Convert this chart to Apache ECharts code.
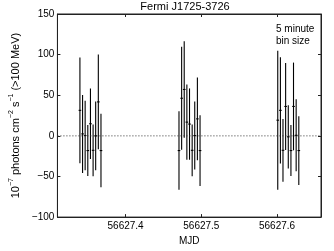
<!DOCTYPE html>
<html><head><meta charset="utf-8">
<script src="https://cdn.jsdelivr.net/npm/echarts@6/dist/echarts.min.js"></script>
<style>html,body{margin:0;padding:0;background:#fff}#c{width:334px;height:251px}</style>
</head><body><div id="c"></div>
<script>
// Data (MJD, flux in 1e-7 ph cm^-2 s^-1, symmetric 1-sigma error)
var mjd = [
  56627.3397, 56627.3432, 56627.3466, 56627.3501, 56627.3536, 56627.3571, 56627.3605, 56627.3640, 56627.3675,
  56627.4705, 56627.4740, 56627.4774, 56627.4809, 56627.4844, 56627.4879, 56627.4913, 56627.4948, 56627.4983,
  56627.6009, 56627.6044, 56627.6078, 56627.6113, 56627.6148, 56627.6183, 56627.6217, 56627.6252, 56627.6287
];
var flux = [
  31.4, 2.4, 0.4, -18.1, 14.9, -17.8, 0.0, 41.8, -18.1,
  -18.1, 46.3, 57.1, 16.9, 14.5, -17.8, 0.4, 20.9, -18.1,
  19.3, 31.4, -17.8, 36.2, -1.2, -18.1, 36.2, 0.7, -18.1
];
var fluxErr = [
  65.0, 48.0, 42.7, 31.4, 43.3, 31.8, 42.3, 58.2, 45.3,
  48.3, 63.4, 59.4, 46.3, 43.9, 31.8, 41.9, 50.9, 43.5,
  85.5, 65.4, 38.6, 53.5, 38.9, 31.4, 54.0, 44.3, 42.3
];
var binHalfWidth = 0.001736; // 2.5 minutes in days
var xTicks = [56627.4, 56627.5, 56627.6];
var zeroLevel = 0;
var titleText = 'Fermi J1725-3726';
var noteText = '5 minute\nbin size';

var data = mjd.map(function (t, i) { return [t, flux[i], fluxErr[i]]; });
var FONT = '"Liberation Sans", Arial, sans-serif';
var axisCol = '#222';

var chart = echarts.init(document.getElementById('c'), null, {renderer: 'canvas'});
var xMin = 56627.31, xMax = 56627.658;

function fmtY(v) { return String(v).replace('-', '\u2212'); }

chart.setOption({
  animation: false,
  backgroundColor: '#fff',
  title: {
    text: titleText, left: 185, top: 1, padding: 0, textAlign: 'center',
    textStyle: {fontFamily: FONT, fontSize: 11, fontWeight: 'normal', color: '#000', lineHeight: 12}
  },
  grid: {left: 49, right: 13, top: 14, bottom: 30, show: true, borderColor: axisCol, borderWidth: 1},
  xAxis: [{
    type: 'value', min: xMin, max: xMax, position: 'bottom',
    name: 'MJD', nameLocation: 'middle', nameGap: 18,
    nameTextStyle: {fontFamily: FONT, fontSize: 10, color: '#000'},
    axisLine: {show: true, onZero: false, lineStyle: {color: axisCol}},
    axisTick: {show: true, inside: true, length: 3, customValues: xTicks, lineStyle: {color: axisCol}},
    axisLabel: {customValues: xTicks, margin: 4, fontFamily: FONT, fontSize: 10, color: '#000',
      formatter: function (v) { return v.toFixed(1); }},
    splitLine: {show: false}
  }, {
    type: 'value', min: xMin, max: xMax, position: 'top',
    axisLine: {show: true, onZero: false, lineStyle: {color: axisCol}},
    axisTick: {show: true, inside: true, length: 3, customValues: xTicks, lineStyle: {color: axisCol}},
    axisLabel: {show: false}, splitLine: {show: false}
  }],
  yAxis: [{
    type: 'value', min: -100, max: 150, interval: 50, position: 'left',
    name: '{a|10}{s|\u22127}{a| photons cm}{s|\u22122}{a| s}{s|\u22121}{a| (>100 MeV)}',
    nameLocation: 'middle', nameGap: 31, nameRotate: 90,
    nameTextStyle: {fontFamily: FONT, color: '#000', rich: {
      a: {fontFamily: FONT, fontSize: 11, color: '#000', lineHeight: 13, verticalAlign: 'bottom'},
      s: {fontFamily: FONT, fontSize: 7, color: '#000', lineHeight: 13, verticalAlign: 'top'}
    }},
    axisLine: {show: true, onZero: false, lineStyle: {color: axisCol}},
    axisTick: {show: true, inside: true, length: 3, lineStyle: {color: axisCol}},
    axisLabel: {margin: 3, fontFamily: FONT, fontSize: 10, color: '#000', formatter: fmtY},
    splitLine: {show: false}
  }, {
    type: 'value', min: -100, max: 150, interval: 50, position: 'right',
    axisLine: {show: true, onZero: false, lineStyle: {color: axisCol}},
    axisTick: {show: true, inside: true, length: 3, lineStyle: {color: axisCol}},
    axisLabel: {show: false}, splitLine: {show: false}
  }],
  graphic: [{
    type: 'text', left: 276, top: 23,
    style: {text: noteText, font: '10px ' + FONT, fill: '#000', lineHeight: 12}
  }],
  series: [{
    type: 'line', xAxisIndex: 0, yAxisIndex: 0,
    data: [[xMin, zeroLevel], [xMax, zeroLevel]],
    symbol: 'none', silent: true,
    lineStyle: {color: '#333', width: 1, type: [1, 2]}
  }, {
    type: 'custom',
    xAxisIndex: 0, yAxisIndex: 0,
    data: data,
    renderItem: function (params, api) {
      var x = api.value(0), y = api.value(1), e = api.value(2);
      var top = api.coord([x, y + e]);
      var bot = api.coord([x, y - e]);
      var l = api.coord([x - binHalfWidth, y]);
      var r = api.coord([x + binHalfWidth, y]);
      var st = {stroke: '#000', lineWidth: 1.1};
      return {type: 'group', children: [
        {type: 'line', shape: {x1: top[0], y1: top[1], x2: bot[0], y2: bot[1]}, style: st},
        {type: 'line', shape: {x1: l[0], y1: l[1], x2: r[0], y2: r[1]}, style: st}
      ]};
    }
  }]
});
</script></body></html>
